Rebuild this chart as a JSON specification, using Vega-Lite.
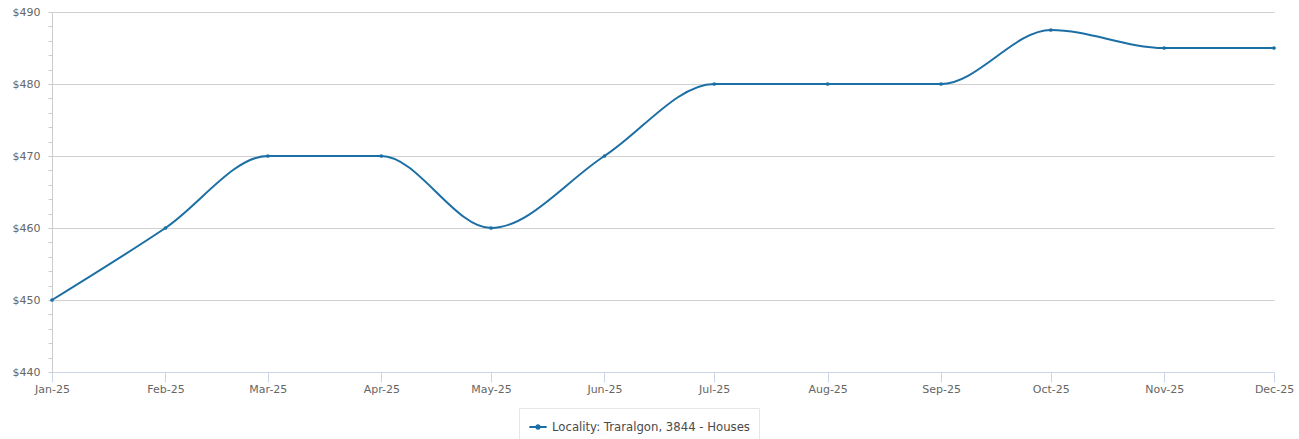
{
  "$schema": "https://vega.github.io/schema/vega-lite/v6.json",
  "autosize": "none",
  "width": 1222,
  "height": 360,
  "padding": {"left": 52, "top": 12, "right": 25, "bottom": 67},
  "background": "white",
  "config": {
    "font": "DejaVu Sans",
    "view": {"stroke": null}
  },
  "data": {
    "values": [
      {"date": "2025-01-01", "rent": 450, "series": "Locality: Traralgon, 3844 - Houses"},
      {"date": "2025-02-01", "rent": 460, "series": "Locality: Traralgon, 3844 - Houses"},
      {"date": "2025-03-01", "rent": 470, "series": "Locality: Traralgon, 3844 - Houses"},
      {"date": "2025-04-01", "rent": 470, "series": "Locality: Traralgon, 3844 - Houses"},
      {"date": "2025-05-01", "rent": 460, "series": "Locality: Traralgon, 3844 - Houses"},
      {"date": "2025-06-01", "rent": 470, "series": "Locality: Traralgon, 3844 - Houses"},
      {"date": "2025-07-01", "rent": 480, "series": "Locality: Traralgon, 3844 - Houses"},
      {"date": "2025-08-01", "rent": 480, "series": "Locality: Traralgon, 3844 - Houses"},
      {"date": "2025-09-01", "rent": 480, "series": "Locality: Traralgon, 3844 - Houses"},
      {"date": "2025-10-01", "rent": 487.5, "series": "Locality: Traralgon, 3844 - Houses"},
      {"date": "2025-11-01", "rent": 485, "series": "Locality: Traralgon, 3844 - Houses"},
      {"date": "2025-12-01", "rent": 485, "series": "Locality: Traralgon, 3844 - Houses"}
    ]
  },
  "mark": {
    "type": "line",
    "interpolate": "monotone",
    "strokeWidth": 2,
    "point": {"filled": true, "size": 14}
  },
  "encoding": {
    "x": {
      "field": "date",
      "type": "temporal",
      "title": null,
      "scale": {"type": "utc", "nice": false},
      "axis": {
        "labelExpr": "utcFormat(datum.value, '%b-%y')",
        "tickCount": {"interval": "month", "step": 1},
        "grid": false,
        "domainColor": "#ccd6eb",
        "tickColor": "#ccd6eb",
        "tickSize": 10,
        "labelPadding": 1,
        "labelFontSize": 11,
        "labelColor": "#666666",
        "labelFlush": false,
        "labelOverlap": false
      }
    },
    "y": {
      "field": "rent",
      "type": "quantitative",
      "title": null,
      "scale": {"domain": [440, 490], "nice": false, "zero": false},
      "axis": {
        "values": [440, 442, 444, 446, 448, 450, 452, 454, 456, 458, 460, 462, 464, 466, 468, 470, 472, 474, 476, 478, 480, 482, 484, 486, 488, 490],
        "labelExpr": "datum.value % 10 === 0 ? '$' + datum.value : ''",
        "grid": true,
        "gridColor": "#d0d0d0",
        "gridOpacity": {"condition": {"test": "datum.value % 10 === 0", "value": 1}, "value": 0},
        "domainColor": "#cccccc",
        "tickColor": "#cccccc",
        "tickSize": 4,
        "labelPadding": 8,
        "labelFontSize": 11,
        "labelColor": "#666666",
        "labelOverlap": false,
        "labelFlush": false
      }
    },
    "color": {
      "field": "series",
      "type": "nominal",
      "scale": {"range": ["#1b6fa5"]},
      "legend": {
        "orient": "none",
        "legendX": 467,
        "legendY": 396,
        "direction": "horizontal",
        "title": null,
        "padding": 9,
        "strokeColor": "#e6e6e6",
        "labelFontSize": 11.7,
        "labelColor": "#4a4a4a",
        "labelLimit": 400,
        "labelOffset": 4,
        "symbolType": "M-1,0H1M-0.2,0a0.2,0.2 0 1,0 0.4,0a0.2,0.2 0 1,0 -0.4,0",
        "symbolSize": 300,
        "symbolStrokeWidth": 2,
        "symbolFillColor": "#1b6fa5"
      }
    }
  }
}
